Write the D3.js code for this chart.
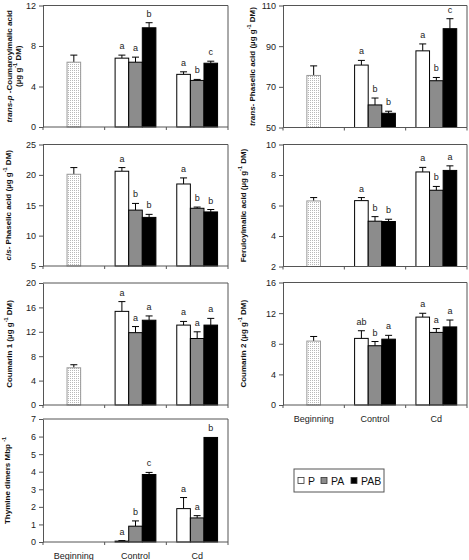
<!DOCTYPE html>
<html><head><meta charset="utf-8">
<script src="https://cdn.jsdelivr.net/npm/d3@7"></script>
<style>body{margin:0;background:#fff} svg{display:block} text{font-family:"Liberation Sans",Arial,sans-serif}</style>
</head><body><svg id="c" width="469" height="560"></svg>
<script>
// ---------- data ----------
const groups = ["Beginning", "Control", "Cd"];
const series = ["P", "PA", "PAB"];
// order of each value array: Beginning, Control P, Control PA, Control PAB, Cd P, Cd PA, Cd PAB

const coumaroylMean = [6.4, 6.8, 6.4, 9.8, 5.2, 4.6, 6.3];
const coumaroylErr = [0.7, 0.3, 0.5, 0.5, 0.25, 0.1, 0.2];
const coumaroylLetters = ["", "a", "a", "b", "a", "b", "c"];
const coumaroylTicks = [0, 4, 8, 12];

const transPhaselicMean = [75.6, 80.7, 61.1, 57.0, 87.7, 73.0, 98.6];
const transPhaselicErr = [4.7, 2.3, 3.4, 1.0, 3.4, 1.6, 4.9];
const transPhaselicLetters = ["", "a", "b", "b", "a", "b", "c"];
const transPhaselicTicks = [50, 70, 90, 110];

const cisPhaselicMean = [20.1, 20.6, 14.2, 13.0, 18.5, 14.5, 13.9];
const cisPhaselicErr = [1.1, 0.6, 1.1, 0.5, 1.0, 0.2, 0.4];
const cisPhaselicLetters = ["", "a", "b", "b", "a", "b", "b"];
const cisPhaselicTicks = [5, 10, 15, 20, 25];

const feruloylMean = [6.3, 6.32, 4.97, 4.95, 8.2, 7.0, 8.3];
const feruloylErr = [0.22, 0.2, 0.3, 0.15, 0.3, 0.25, 0.3];
const feruloylLetters = ["", "a", "b", "b", "a", "b", "a"];
const feruloylTicks = [2, 4, 6, 8, 10];

const coumarin1Mean = [6.1, 15.35, 11.86, 13.9, 13.1, 10.9, 13.1];
const coumarin1Err = [0.5, 1.6, 1.0, 0.7, 0.6, 1.1, 1.1];
const coumarin1Letters = ["", "a", "a", "a", "a", "a", "a"];
const coumarin1Ticks = [0, 4, 8, 12, 16, 20];

const coumarin2Mean = [8.35, 8.7, 7.74, 8.6, 11.48, 9.48, 10.2];
const coumarin2Err = [0.6, 1.0, 0.55, 0.5, 0.5, 0.5, 0.9];
const coumarin2Letters = ["", "ab", "b", "a", "a", "a", "a"];
const coumarin2Ticks = [0, 4, 8, 12, 16];

const thymineMean = [null, 0.05, 0.9, 3.84, 1.9, 1.37, 5.95];
const thymineErr = [0, 0.03, 0.3, 0.12, 0.63, 0.13, 0];
const thymineLetters = ["", "a", "b", "c", "a", "a", "b"];
const thymineTicks = [0, 1, 2, 3, 4, 5, 6, 7];

// ---------- layout ----------
const svg = d3.select("#c");
const cols = [[43, 228], [283, 467]];
const fills = {P: "#ffffff", PA: "#8c8c8c", PAB: "#000000"};
const barW = 13.6;

const defs = svg.append("defs");
const pat = defs.append("pattern").attr("id", "dots").attr("patternUnits", "userSpaceOnUse")
  .attr("width", 2).attr("height", 2);
pat.append("rect").attr("width", 2).attr("height", 2).attr("fill", "#fff");
pat.append("rect").attr("width", 1).attr("height", 1).attr("fill", "#b8b8b8");

const unitLine = [{t: "(µg g"}, {t: "-1", sup: true}, {t: " DM)"}];

const panels = [
  {mean: coumaroylMean, err: coumaroylErr, letters: coumaroylLetters, ticks: coumaroylTicks, col: 0, top: 5.5, bottom: 127,
   titles: [{x: 9, segs: [{t: "trans-p", i: true}, {t: " -Coumaroylmalic acid"}]}, {x: 18, segs: unitLine}], xlabels: false},
  {mean: transPhaselicMean, err: transPhaselicErr, letters: transPhaselicLetters, ticks: transPhaselicTicks, col: 1, top: 5.5, bottom: 127.5,
   titles: [{x: 252, segs: [{t: "trans-", i: true}, {t: " Phaselic acid "}].concat(unitLine)}], xlabels: false},
  {mean: cisPhaselicMean, err: cisPhaselicErr, letters: cisPhaselicLetters, ticks: cisPhaselicTicks, col: 0, top: 144.5, bottom: 266,
   titles: [{x: 8, segs: [{t: "cis-", i: true}, {t: " Phaselic acid "}].concat(unitLine)}], xlabels: false},
  {mean: feruloylMean, err: feruloylErr, letters: feruloylLetters, ticks: feruloylTicks, col: 1, top: 144.5, bottom: 266.5,
   titles: [{x: 243, segs: [{t: "Feruloylmalic acid "}].concat(unitLine)}], xlabels: false},
  {mean: coumarin1Mean, err: coumarin1Err, letters: coumarin1Letters, ticks: coumarin1Ticks, col: 0, top: 283, bottom: 405,
   titles: [{x: 9, segs: [{t: "Coumarin 1 "}].concat(unitLine)}], xlabels: false},
  {mean: coumarin2Mean, err: coumarin2Err, letters: coumarin2Letters, ticks: coumarin2Ticks, col: 1, top: 282.5, bottom: 405,
   titles: [{x: 243, segs: [{t: "Coumarin 2 "}].concat(unitLine)}], xlabels: true},
  {mean: thymineMean, err: thymineErr, letters: thymineLetters, ticks: thymineTicks, col: 0, top: 419, bottom: 542,
   titles: [{x: 7, segs: [{t: "Thymine dimers Mbp  "}, {t: "-1", sup: true}]}], xlabels: true}
];

panels.forEach(p => {
  const [x0, x1] = cols[p.col];
  const g = svg.append("g");
  const y = d3.scaleLinear().domain([p.ticks[0], p.ticks[p.ticks.length - 1]]).range([p.bottom, p.top]);
  const xb = d3.scaleBand().domain(groups).range([x0, x1]);
  const xs = d3.scaleBand().domain(series).range([-1.5 * barW, 1.5 * barW]);

  // frame (top + right)
  g.append("path").attr("d", `M${x0},${p.top}H${x1}V${p.bottom}`).attr("fill", "none").attr("stroke", "#555").attr("stroke-width", 1);

  const items = p.mean.map((v, i) => {
    if (i === 0) return {v, e: p.err[i], l: p.letters[i], cx: xb("Beginning") + xb.bandwidth() / 2, fill: "url(#dots)", stroke: "#999"};
    const grp = groups[1 + Math.floor((i - 1) / 3)];
    const s = series[(i - 1) % 3];
    return {v, e: p.err[i], l: p.letters[i], cx: xb(grp) + xb.bandwidth() / 2 + xs(s) + xs.bandwidth() / 2, fill: fills[s], stroke: "#000"};
  }).filter(d => d.v !== null);

  // error bars
  g.selectAll(".err").data(items.filter(d => d.e > 0)).join("path")
    .attr("d", d => `M${d.cx},${y(d.v)}V${y(d.v + d.e)}M${d.cx - 3.5},${y(d.v + d.e)}H${d.cx + 3.5}`)
    .attr("stroke", "#000").attr("stroke-width", 1).attr("fill", "none");

  // bars
  g.selectAll(".bar").data(items).join("rect")
    .attr("x", d => d.cx - barW / 2).attr("width", barW)
    .attr("y", d => y(d.v)).attr("height", d => p.bottom - y(d.v))
    .attr("fill", d => d.fill).attr("stroke", d => d.stroke).attr("stroke-width", 1);

  // letters
  g.selectAll(".lt").data(items.filter(d => d.l)).join("text")
    .attr("x", d => d.cx).attr("y", d => y(d.v + d.e) - 6)
    .attr("text-anchor", "middle").attr("font-size", 9).attr("fill", "#222").text(d => d.l);

  // y axis
  const ya = g.append("g").attr("transform", `translate(${x0},0)`)
    .call(d3.axisLeft(y).tickValues(p.ticks).tickFormat(d3.format("d")).tickSize(4).tickSizeOuter(0).tickPadding(3));
  ya.select(".domain").attr("stroke", "#555");
  ya.selectAll(".tick line").attr("stroke", "#555");
  ya.selectAll(".tick text").attr("font-size", 9).attr("fill", "#222").attr("font-family", "Liberation Sans, Arial, sans-serif");

  // x axis
  g.append("line").attr("x1", x0).attr("x2", x1).attr("y1", p.bottom).attr("y2", p.bottom).attr("stroke", "#555");
  const bounds = groups.map(c => xb(c)).concat([x1]);
  g.selectAll(".xt").data(bounds).join("line")
    .attr("x1", d => d).attr("x2", d => d).attr("y1", p.bottom).attr("y2", p.bottom + 3).attr("stroke", "#555");
  if (p.xlabels) {
    g.selectAll(".xl").data(groups).join("text")
      .attr("x", d => xb(d) + xb.bandwidth() / 2).attr("y", p.bottom + 16.5)
      .attr("text-anchor", "middle").attr("font-size", 9).attr("fill", "#222").text(d => d);
  }

  // titles
  const yc = (p.top + p.bottom) / 2;
  p.titles.forEach(tl => {
    const t = g.append("text").attr("transform", `translate(${tl.x},${yc}) rotate(-90)`)
      .attr("text-anchor", "middle").attr("dominant-baseline", "central")
      .attr("font-size", 8).attr("font-weight", "bold").attr("fill", "#111");
    let shifted = false;
    tl.segs.forEach(s => {
      const ts = t.append("tspan").text(s.t);
      if (s.i) ts.attr("font-style", "italic");
      if (s.sup) { ts.attr("font-size", 5.5).attr("dy", -3); shifted = true; }
      else if (shifted) { ts.attr("dy", 3); shifted = false; }
    });
  });
});

// legend
const lg = svg.append("g").attr("transform", "translate(294,469)");
lg.append("rect").attr("width", 90).attr("height", 23).attr("fill", "#fff").attr("stroke", "#555");
const lxPos = {P: 4, PA: 27, PAB: 57};
const li = lg.selectAll(".li").data(series).join("g").attr("transform", d => `translate(${lxPos[d]},0)`);
li.append("rect").attr("y", 8.5).attr("width", 6).attr("height", 6).attr("fill", d => fills[d]).attr("stroke", "#333").attr("stroke-width", 0.8);
li.append("text").attr("x", 10).attr("y", 15.5).attr("font-size", 10.5).attr("fill", "#111").text(d => d);
</script></body></html>
